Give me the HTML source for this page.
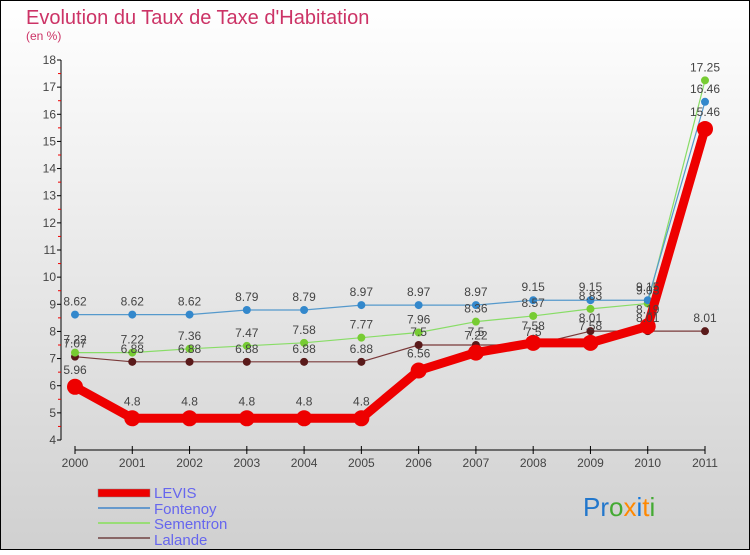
<!DOCTYPE html>
<html><head><meta charset="utf-8"><style>
body{margin:0;width:750px;height:550px;overflow:hidden;font-family:"Liberation Sans",sans-serif}
svg text{font-family:"Liberation Sans",sans-serif}
</style></head><body>
<svg id="chart" width="750" height="550" xmlns="http://www.w3.org/2000/svg">
<defs><linearGradient id="bg" x1="0" y1="0" x2="0" y2="1"><stop offset="0" stop-color="#ffffff"/><stop offset="1" stop-color="#d0d0d0"/></linearGradient></defs>
<rect x="0.5" y="0.5" width="749" height="549" fill="url(#bg)" stroke="#000"/>
<text x="26" y="24" font-size="20" fill="#cc3366">Evolution du Taux de Taxe d'Habitation</text>
<text x="26" y="40" font-size="12" fill="#cc3366">(en %)</text>
<g id="axes"></g><g id="series"></g><g id="labels"></g>
<g>
<rect x="98" y="489" width="52" height="8" fill="#ee0000" stroke="#888" stroke-width="0.5"/>
<text x="154" y="498" font-size="15" fill="#6666ee">LEVIS</text>
<line x1="98" y1="508" x2="150" y2="508" stroke="#6699cc" stroke-width="2"/>
<text x="154" y="514" font-size="15" fill="#6666ee">Fontenoy</text>
<line x1="98" y1="523" x2="150" y2="523" stroke="#99dd77" stroke-width="2"/>
<text x="154" y="529" font-size="15" fill="#6666ee">Sementron</text>
<line x1="98" y1="538" x2="150" y2="538" stroke="#886666" stroke-width="2"/>
<text x="154" y="545" font-size="15" fill="#6666ee">Lalande</text>
</g>
<g font-size="26">
<text x="583" y="516"><tspan fill="#2277cc">Pr</tspan><tspan fill="#44aa33">o</tspan><tspan fill="#ff8800">x</tspan><tspan fill="#1177dd">i</tspan><tspan fill="#ff8800">t</tspan><tspan fill="#44aa33">i</tspan></text>
</g>
</svg>
<script>
const years=[2000,2001,2002,2003,2004,2005,2006,2007,2008,2009,2010,2011];
const levis=[5.96,4.8,4.8,4.8,4.8,4.8,6.56,7.22,7.58,7.58,8.19,15.46];
const fontenoy=[8.62,8.62,8.62,8.79,8.79,8.97,8.97,8.97,9.15,9.15,9.15,16.46];
const sementron=[7.22,7.22,7.36,7.47,7.58,7.77,7.96,8.36,8.57,8.83,9.03,17.25];
const lalande=[7.07,6.88,6.88,6.88,6.88,6.88,7.5,7.5,7.5,8.01,8.01,8.01];
const yTicks=[4,5,6,7,8,9,10,11,12,13,14,15,16,17,18];
const NS="http://www.w3.org/2000/svg";
const xS=i=>75+i*(630/(years.length-1));
const yS=v=>440-(v-4)*(380/14);
function mk(t,a,p){const e=document.createElementNS(NS,t);for(const k in a)e.setAttribute(k,a[k]);p.appendChild(e);return e;}
const ax=document.getElementById('axes'),se=document.getElementById('series'),lb=document.getElementById('labels');
let l=mk('line',{x1:61,y1:60,x2:61,y2:440,stroke:'#000'},ax);


yTicks.forEach(t=>{
 mk('line',{x1:57,y1:yS(t),x2:61,y2:yS(t),stroke:'#000'},ax);
 if(t<18)mk('line',{x1:58,y1:yS(t+0.5),x2:61,y2:yS(t+0.5),stroke:'#e00'},ax);
 const tx=mk('text',{x:56,y:yS(t)+4,'font-size':12,fill:'#444','text-anchor':'end'},ax);
 tx.textContent=t;
 
 
});
l=mk('line',{x1:75,y1:450,x2:705,y2:450,stroke:'#000'},ax);


years.forEach((y,i)=>{
 mk('line',{x1:xS(i),y1:446,x2:xS(i),y2:454,stroke:'#000'},ax);
 const tx=mk('text',{x:xS(i),y:467,'font-size':12,fill:'#444','text-anchor':'middle'},ax);
 tx.textContent=y;
 
 
});
function draw(vals,name,col,dot,w,r){
 const pts=vals.map((v,i)=>xS(i)+','+yS(v)).join(' ');
 const pl=mk('polyline',{points:pts,fill:'none',stroke:col,'stroke-width':w,'stroke-linejoin':'round'},se);
 
 
 vals.forEach((v,i)=>{
  const c=mk('circle',{cx:xS(i),cy:yS(v),r:r,fill:dot},se);
  
  
  const t=mk('text',{x:xS(i),y:yS(v)-(r+5),'font-size':12,fill:'#444','text-anchor':'middle'},lb);
  t.textContent=v;
  
  
 });
}
draw(lalande,'lalande','#7a3a3a','#5a1a1a',1.2,4);
draw(sementron,'sementron','#88dd66','#77cc33',1.2,4);
draw(fontenoy,'fontenoy','#5599cc','#3388cc',1.2,4);
draw(levis,'levis','#ee0000','#ee0000',9,8);
</script>
</body></html>
